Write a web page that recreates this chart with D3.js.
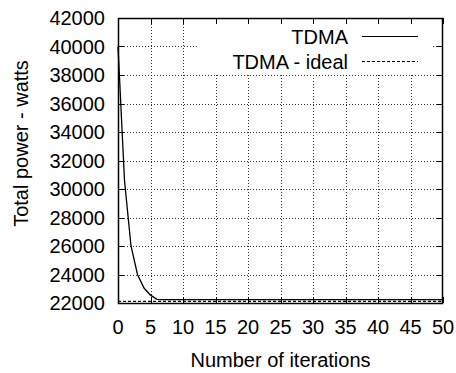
<!DOCTYPE html>
<html>
<head>
<meta charset="utf-8">
<script src="https://cdn.jsdelivr.net/npm/d3@7"></script>
<style>
  html, body { margin: 0; padding: 0; background: #fff; }
  svg { display: block; }
  text { font-family: "Liberation Sans", Arial, Helvetica, sans-serif; fill: #000; }
</style>
</head>
<body>
<svg id="chart" width="456" height="373"></svg>
<script>
// Iteration index and total power per iteration (watts)
const iterations = [0,1,2,3,4,5,6,7,8,9,10,11,12,13,14,15,16,17,18,19,20,
  21,22,23,24,25,26,27,28,29,30,31,32,33,34,35,36,37,38,39,40,
  41,42,43,44,45,46,47,48,49,50];
const tdma = [40000,30600,26000,24000,23050,22550,22260,22230,22230,22230,22230,
  22230,22230,22230,22230,22230,22230,22230,22230,22230,22230,
  22230,22230,22230,22230,22230,22230,22230,22230,22230,22230,
  22230,22230,22230,22230,22230,22230,22230,22230,22230,22230,
  22230,22230,22230,22230,22230,22230,22230,22230,22230,22230];
const tdmaIdeal = [22120,22120,22120,22120,22120,22120,22120,22120,22120,22120,22120,
  22120,22120,22120,22120,22120,22120,22120,22120,22120,22120,
  22120,22120,22120,22120,22120,22120,22120,22120,22120,22120,
  22120,22120,22120,22120,22120,22120,22120,22120,22120,22120,
  22120,22120,22120,22120,22120,22120,22120,22120,22120,22120];
const xTicks = [0,5,10,15,20,25,30,35,40,45,50];
const yTicks = [22000,24000,26000,28000,30000,32000,34000,36000,38000,40000,42000];
const seriesNames = ["TDMA", "TDMA - ideal"];

const svg = d3.select("#chart");
const plotL = 118, plotR = 443, plotT = 18, plotB = 303;

const x = d3.scaleLinear().domain([0, 50]).range([plotL, plotR]);
const y = d3.scaleLinear().domain([22000, 42000]).range([plotB, plotT]);

const fontSize = 20;
const tickLen = 6;

// grid
const grid = svg.append("g");
grid.selectAll("line.gx").data(xTicks.slice(1, -1)).join("line")
  .attr("x1", d => Math.round(x(d)) + 0.5).attr("x2", d => Math.round(x(d)) + 0.5)
  .attr("y1", plotT).attr("y2", plotB)
  .attr("stroke", "#333").attr("stroke-width", 1).attr("stroke-dasharray", "1,2");
grid.selectAll("line.gy").data(yTicks.slice(1, -1)).join("line")
  .attr("x1", plotL).attr("x2", plotR)
  .attr("y1", d => Math.round(y(d)) + 0.5).attr("y2", d => Math.round(y(d)) + 0.5)
  .attr("stroke", "#333").attr("stroke-width", 1).attr("stroke-dasharray", "1,2");

// key area clears the grid behind it
svg.append("rect")
  .attr("x", 199).attr("y", plotT + 1).attr("width", 232).attr("height", 54)
  .attr("fill", "#fff");

// tick marks on all four sides
const ticks = svg.append("g").attr("stroke", "#000").attr("stroke-width", 1);
xTicks.forEach(t => {
  const px = Math.round(x(t)) + 0.5;
  ticks.append("line").attr("x1", px).attr("x2", px).attr("y1", plotB).attr("y2", plotB - tickLen);
  ticks.append("line").attr("x1", px).attr("x2", px).attr("y1", plotT).attr("y2", plotT + tickLen);
});
yTicks.forEach(t => {
  const py = Math.round(y(t)) + 0.5;
  ticks.append("line").attr("x1", plotL).attr("x2", plotL + tickLen).attr("y1", py).attr("y2", py);
  ticks.append("line").attr("x1", plotR).attr("x2", plotR - tickLen).attr("y1", py).attr("y2", py);
});

// tick labels
svg.append("g").selectAll("text").data(xTicks).join("text")
  .attr("x", d => x(d)).attr("y", 334)
  .attr("text-anchor", "middle").attr("font-size", fontSize)
  .text(d => d);
svg.append("g").selectAll("text").data(yTicks).join("text")
  .attr("x", 105).attr("y", d => y(d) + 7)
  .attr("text-anchor", "end").attr("font-size", fontSize)
  .text(d => d);

// axis titles
svg.append("text")
  .attr("x", 280.5).attr("y", 367)
  .attr("text-anchor", "middle").attr("font-size", fontSize)
  .text("Number of iterations");
svg.append("text")
  .attr("transform", "translate(28,143.5) rotate(-90)")
  .attr("text-anchor", "middle").attr("font-size", fontSize)
  .text("Total power - watts");

// series lines
const line = d3.line().x((d, i) => x(iterations[i])).y(d => y(d));
svg.append("path").datum(tdmaIdeal)
  .attr("d", line).attr("fill", "none")
  .attr("stroke", "#000").attr("stroke-width", 1.2).attr("stroke-dasharray", "3,2");
svg.append("path").datum(tdma)
  .attr("d", line).attr("fill", "none")
  .attr("stroke", "#000").attr("stroke-width", 1.3);

// key
const keyRows = [
  { name: seriesNames[0], dash: null, yMid: 36 },
  { name: seriesNames[1], dash: "3,2", yMid: 61 }
];
keyRows.forEach(r => {
  svg.append("text")
    .attr("x", 348).attr("y", r.yMid + 8)
    .attr("text-anchor", "end").attr("font-size", fontSize)
    .text(r.name);
  svg.append("line")
    .attr("x1", 362).attr("x2", 418).attr("y1", r.yMid + 0.5).attr("y2", r.yMid + 0.5)
    .attr("stroke", "#000").attr("stroke-width", 1.2)
    .attr("stroke-dasharray", r.dash);
});

// plot frame
svg.append("rect")
  .attr("x", plotL + 0.5).attr("y", plotT + 0.5)
  .attr("width", plotR - plotL - 1).attr("height", plotB - plotT)
  .attr("fill", "none").attr("stroke", "#000").attr("stroke-width", 1.5);
</script>
</body>
</html>
